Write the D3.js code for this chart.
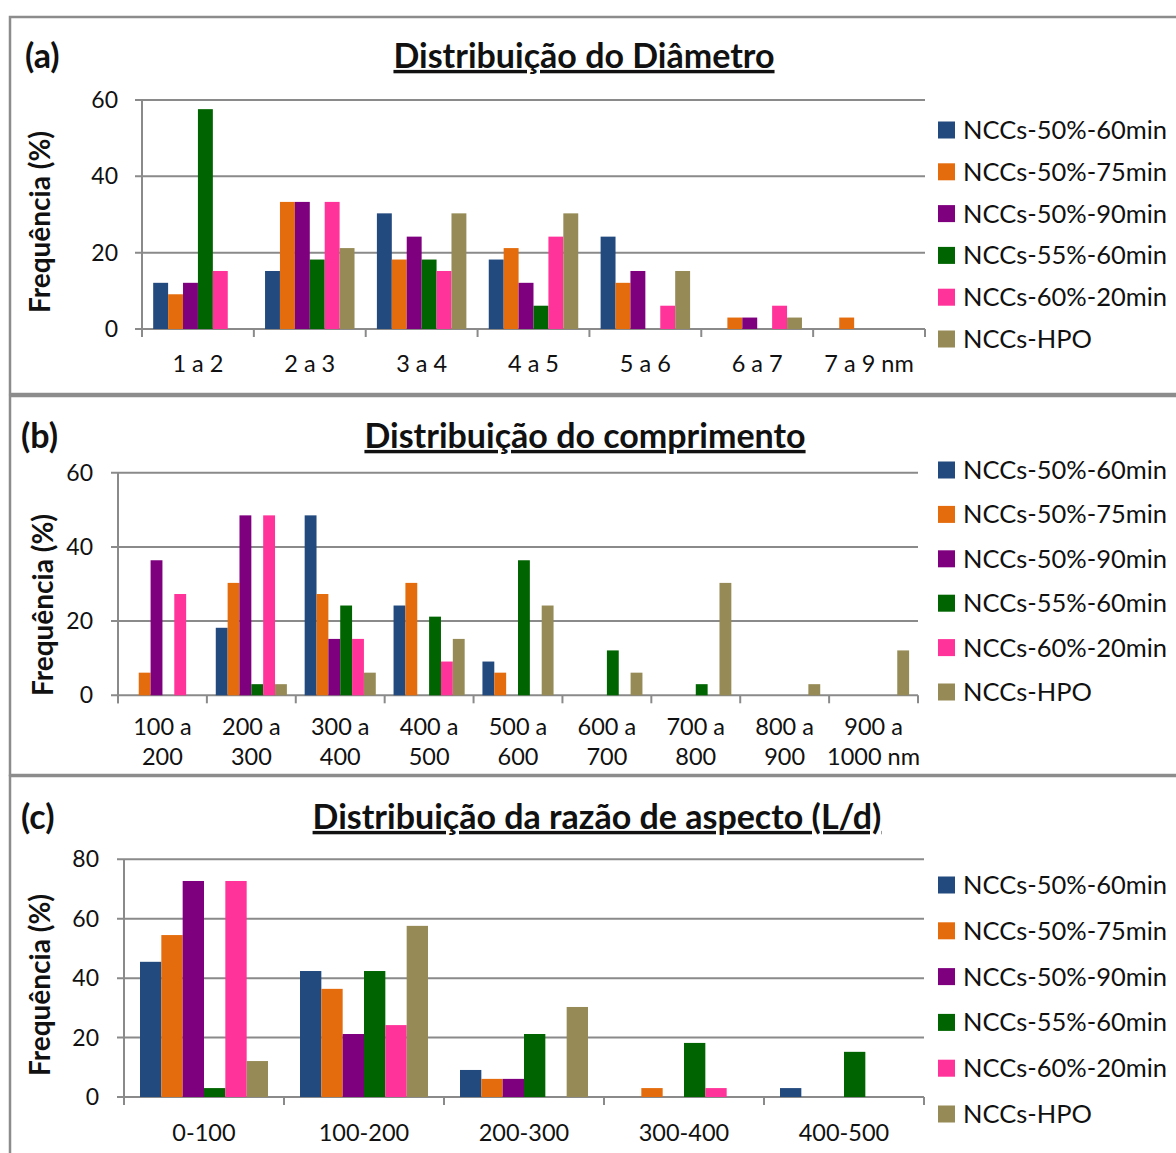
<!DOCTYPE html>
<html>
<head>
<meta charset="utf-8">
<script src="https://cdn.jsdelivr.net/npm/d3@7"></script>
<style>
body{margin:0;background:#fff}
text{font-family:Lato,"Open Sans",sans-serif;fill:#111}
</style>
</head>
<body>
<svg id="chart" width="1176" height="1153"></svg>
<script>
// series shared by the three panels
var seriesNames=["NCCs-50%-60min","NCCs-50%-75min","NCCs-50%-90min","NCCs-55%-60min","NCCs-60%-20min","NCCs-HPO"];
var seriesColors=["#224a7e","#e46c0c","#7f007f","#006400","#ff3399","#968b56"];

// (a) diametro
var diamCats=["1 a 2","2 a 3","3 a 4","4 a 5","5 a 6","6 a 7","7 a 9 nm"];
var diam50_60=[12.1,15.2,30.3,18.2,24.2,0,0];
var diam50_75=[9.1,33.3,18.2,21.2,12.1,3.0,3.0];
var diam50_90=[12.1,33.3,24.2,12.1,15.2,3.0,0];
var diam55_60=[57.6,18.2,18.2,6.1,0,0,0];
var diam60_20=[15.2,33.3,15.2,24.2,6.1,6.1,0];
var diamHPO=[0,21.2,30.3,30.3,15.2,3.0,0];
var diamTicks=[0,20,40,60];

// (b) comprimento
var compCats=["100 a 200","200 a 300","300 a 400","400 a 500","500 a 600","600 a 700","700 a 800","800 a 900","900 a 1000 nm"];
var comp50_60=[0,18.2,48.5,24.2,9.1,0,0,0,0];
var comp50_75=[6.1,30.3,27.3,30.3,6.1,0,0,0,0];
var comp50_90=[36.4,48.5,15.2,0,0,0,0,0,0];
var comp55_60=[0,3.0,24.2,21.2,36.4,12.1,3.0,0,0];
var comp60_20=[27.3,48.5,15.2,9.1,0,0,0,0,0];
var compHPO=[0,3.0,6.1,15.2,24.2,6.1,30.3,3.0,12.1];
var compTicks=[0,20,40,60];

// (c) razao de aspecto
var ratioCats=["0-100","100-200","200-300","300-400","400-500"];
var ratio50_60=[45.5,42.4,9.1,0,3.0];
var ratio50_75=[54.5,36.4,6.1,3.0,0];
var ratio50_90=[72.7,21.2,6.1,0,0];
var ratio55_60=[3.0,42.4,21.2,18.2,15.2];
var ratio60_20=[72.7,24.2,0,3.0,0];
var ratioHPO=[12.1,57.6,30.3,0,0];
var ratioTicks=[0,20,40,60,80];

var svg=d3.select("#chart");
var GRID="#8a8a8a";

var panels=[
 {tag:"(a)",title:"Distribui\u00e7\u00e3o do Di\u00e2metro",cats:diamCats,
  values:[diam50_60,diam50_75,diam50_90,diam55_60,diam60_20,diamHPO],ticks:diamTicks,
  box:[17,394],x0:142,x1:925,yZero:329,yTop:100,labY:364,twoLine:false,
  titleX:584,titleY:56,tagX:25,legY:130,legStep:41.8,ylabY:222,ylabX:40,tickRight:118},
 {tag:"(b)",title:"Distribui\u00e7\u00e3o do comprimento",cats:compCats,
  values:[comp50_60,comp50_75,comp50_90,comp55_60,comp60_20,compHPO],ticks:compTicks,
  box:[396,775],x0:118,x1:918,yZero:695.3,yTop:472.7,labY:727,twoLine:true,
  titleX:585,titleY:436,tagX:21,legY:470,legStep:44.4,ylabY:605,ylabX:43,tickRight:93},
 {tag:"(c)",title:"Distribui\u00e7\u00e3o da raz\u00e3o de aspecto (L/d)",cats:ratioCats,
  values:[ratio50_60,ratio50_75,ratio50_90,ratio55_60,ratio60_20,ratioHPO],ticks:ratioTicks,
  box:[776,1170],x0:124,x1:924,yZero:1097,yTop:859.3,labY:1133,twoLine:false,
  titleX:597,titleY:817,tagX:21,legY:885,legStep:45.8,ylabY:985,ylabX:40,tickRight:99}
];

panels.forEach(function(p){
 var g=svg.append("g");
 // frame
 g.append("rect").attr("x",10).attr("y",p.box[0]).attr("width",1180).attr("height",p.box[1]-p.box[0])
  .attr("fill","none").attr("stroke","#8c8c8c").attr("stroke-width",2.5);

 var x=d3.scaleBand().domain(p.cats).range([p.x0,p.x1]).padding(0);
 var bw=x.bandwidth(), w=bw/7.5;
 var xs=d3.scaleBand().domain(d3.range(seriesNames.length)).range([0.75*w,bw-0.75*w]).padding(0);
 var yMax=p.ticks[p.ticks.length-1];
 var y=d3.scaleLinear().domain([0,yMax]).range([p.yZero,p.yTop]);

 // gridlines + left ticks
 g.selectAll(".grid").data(p.ticks).enter().append("line")
  .attr("x1",p.x0-7).attr("x2",p.x1).attr("y1",function(d){return y(d);}).attr("y2",function(d){return y(d);})
  .attr("stroke",GRID).attr("stroke-width",2);
 g.selectAll(".ytl").data(p.ticks).enter().append("text")
  .attr("x",p.tickRight).attr("y",function(d){return y(d);}).attr("text-anchor","end")
  .attr("dy","0.35em").style("font-size","23px").text(function(d){return d;});

 // bars
 seriesNames.forEach(function(s,i){
  g.append("g").selectAll("rect").data(p.values[i]).enter().append("rect")
   .attr("x",function(d,j){return x(p.cats[j])+xs(i);})
   .attr("width",xs.bandwidth())
   .attr("y",function(d){return y(d);})
   .attr("height",function(d){return y(0)-y(d);})
   .attr("fill",seriesColors[i]);
 });

 // axes lines
 g.append("line").attr("x1",p.x0).attr("x2",p.x0).attr("y1",p.yTop).attr("y2",p.yZero+8)
  .attr("stroke",GRID).attr("stroke-width",2);
 var edges=p.cats.map(function(c){return x(c);}).concat([p.x1]);
 g.selectAll(".xt").data(edges).enter().append("line")
  .attr("x1",function(d){return d;}).attr("x2",function(d){return d;})
  .attr("y1",p.yZero).attr("y2",p.yZero+8).attr("stroke",GRID).attr("stroke-width",2);

 // category labels
 p.cats.forEach(function(c){
  var cx=x(c)+bw/2;
  var lines=p.twoLine?c.split(/(?<= a) /):[c];
  lines.forEach(function(l,k){
   g.append("text").attr("x",cx).attr("y",p.labY+k*30).attr("dy","0.35em")
    .attr("text-anchor","middle").style("font-size","23.5px").text(l);
  });
 });

 // y title
 g.append("text").attr("transform","translate("+p.ylabX+","+p.ylabY+") rotate(-90)")
  .attr("text-anchor","middle").attr("dy","0.35em").style("font-size","28px").style("font-weight","bold")
  .text("Frequ\u00eancia (%)");

 // title and tag
 g.append("text").attr("x",p.titleX).attr("y",p.titleY).attr("dy","0.35em").attr("text-anchor","middle")
  .style("font-size","34px").style("font-weight","bold").style("text-decoration","underline")
  .text(p.title);
 g.append("text").attr("x",p.tagX).attr("y",p.titleY).attr("dy","0.35em")
  .style("font-size","34px").style("font-weight","bold").text(p.tag);

 // legend
 var lg=g.selectAll(".leg").data(seriesNames).enter().append("g")
  .attr("transform",function(d,i){return "translate(938,"+(p.legY+i*p.legStep)+")";});
 lg.append("rect").attr("x",0).attr("y",-8.5).attr("width",17).attr("height",17)
  .attr("fill",function(d,i){return seriesColors[i];});
 lg.append("text").attr("x",25).attr("dy","0.35em").style("font-size","25.5px").text(function(d){return d;});
});
</script>
</body>
</html>
